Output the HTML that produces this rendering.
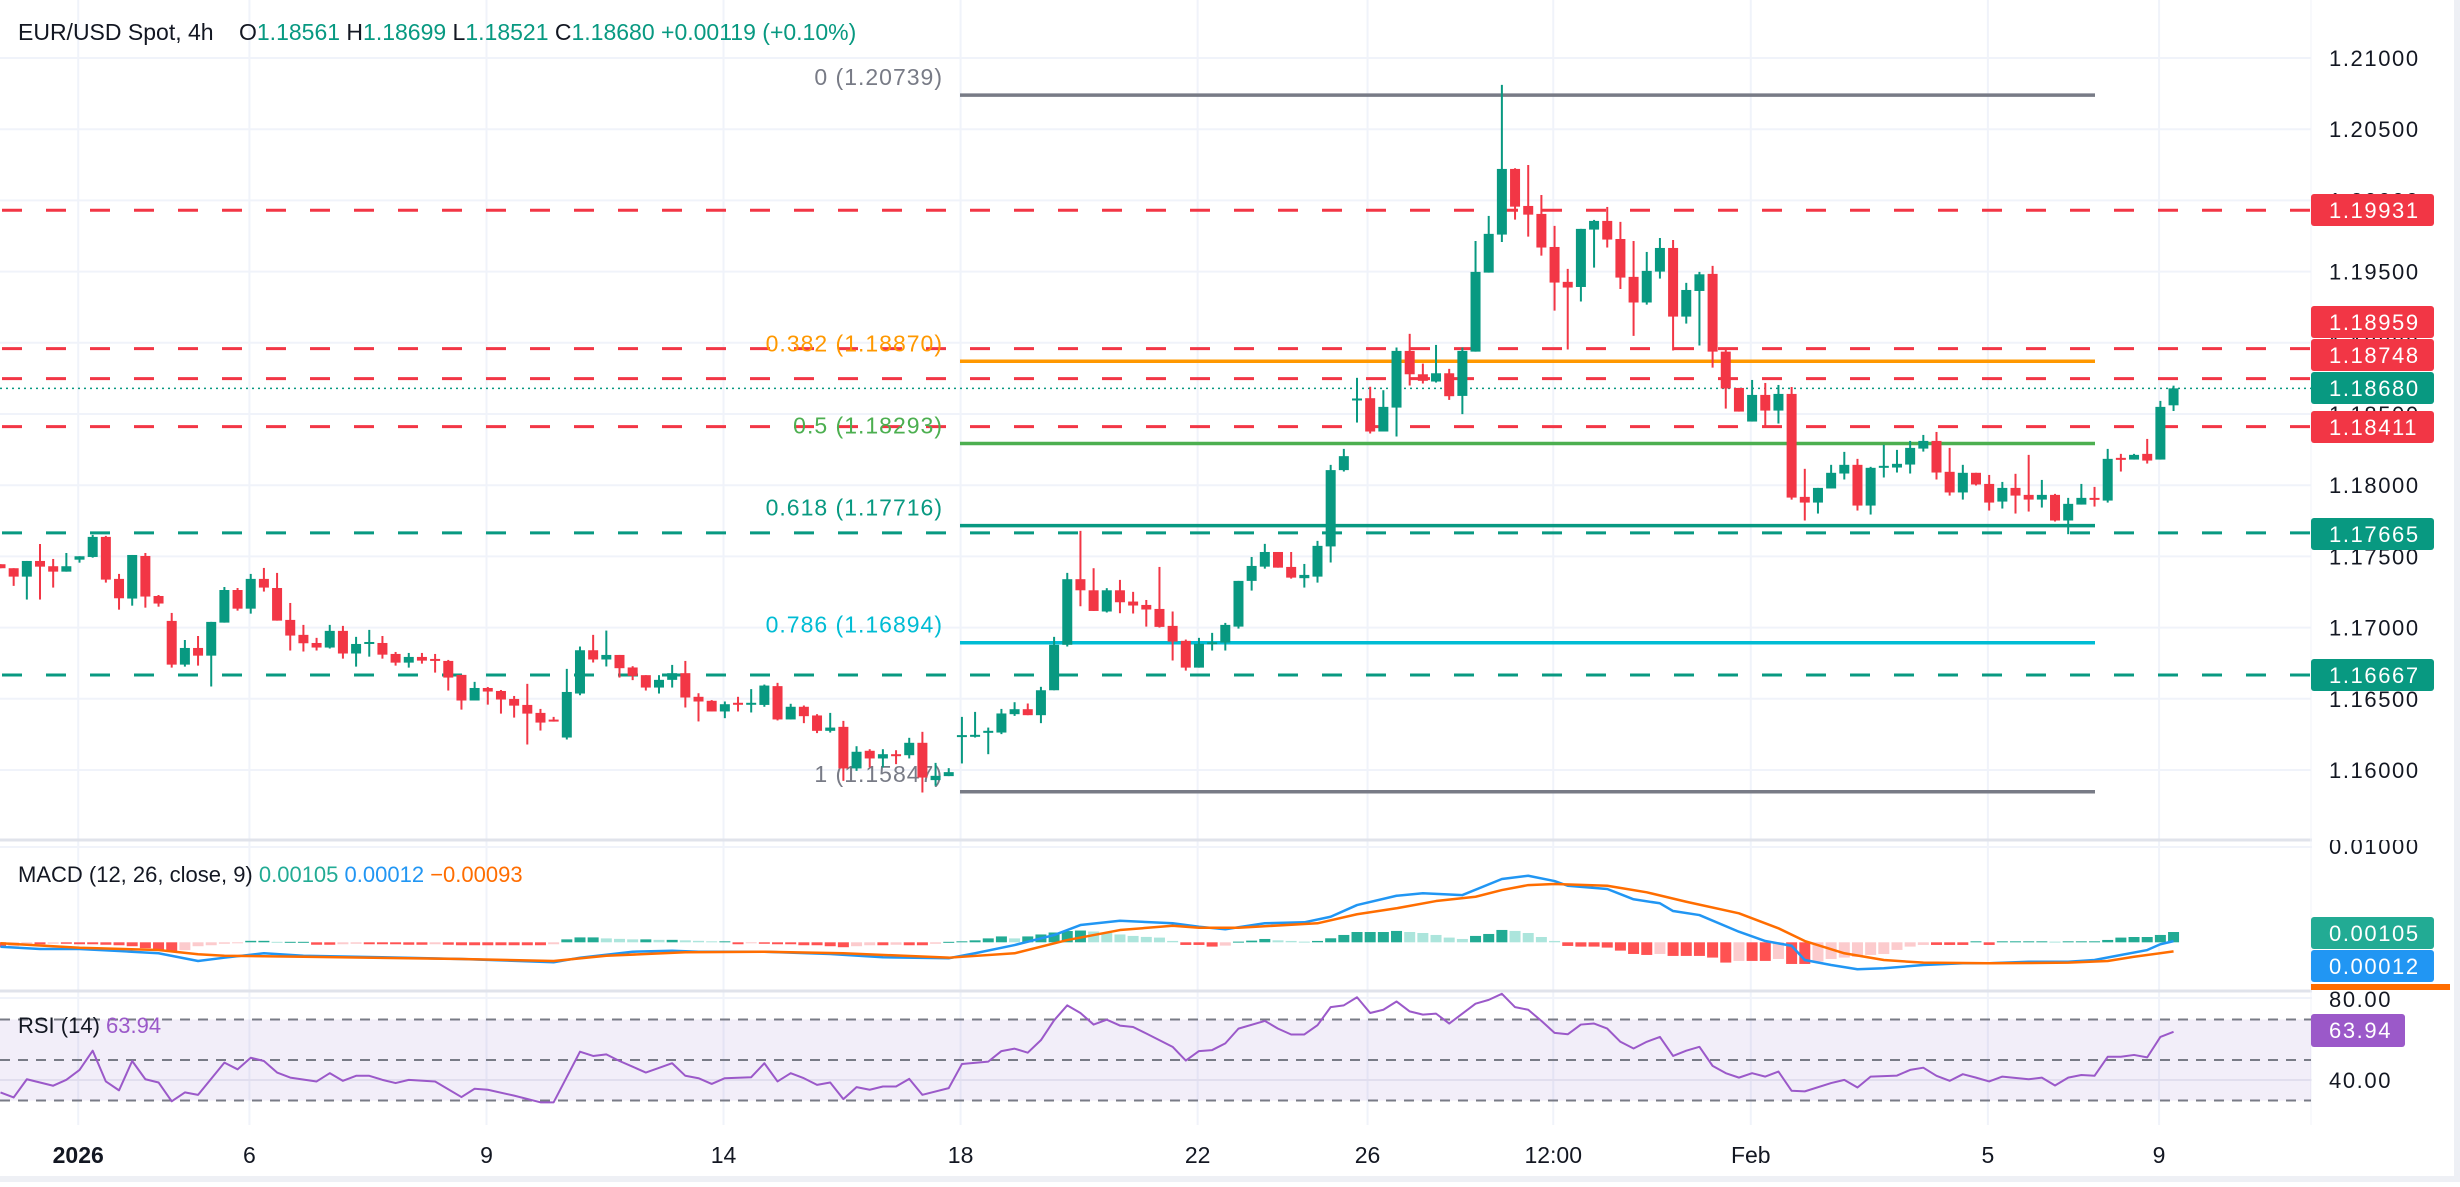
<!DOCTYPE html>
<html><head><meta charset="utf-8"><title>EUR/USD Spot 4h</title>
<style>
html,body{margin:0;padding:0;background:#fff;}
body{width:2460px;height:1182px;overflow:hidden;font-family:"Liberation Sans",Arial,sans-serif;}
svg text{font-family:"Liberation Sans",Arial,sans-serif;}
</style></head>
<body>
<svg id="chart" width="2460" height="1182" viewBox="0 0 2460 1182" xmlns="http://www.w3.org/2000/svg">
<rect x="0" y="0" width="2460" height="1182" fill="#ffffff"/>
<g id="grid"></g>
<g id="levels"></g>
<g id="fib"></g>
<g id="candles"></g>
<g id="macd"></g>
<g id="rsi"></g>
<g id="axis"></g>
<g id="xaxis"></g>
<g id="legend">
  <text x="18" y="40" font-size="23" fill="#131722">EUR/USD Spot, 4h</text>
  <text x="239" y="40" font-size="23" fill="#131722">O<tspan fill="#089981">1.18561</tspan>  H<tspan fill="#089981">1.18699</tspan>  L<tspan fill="#089981">1.18521</tspan>  C<tspan fill="#089981">1.18680</tspan>  <tspan fill="#089981">+0.00119 (+0.10%)</tspan></text>
  <text x="18" y="882" font-size="22" fill="#131722">MACD (12, 26, close, 9) <tspan fill="#22ab94">0.00105</tspan> <tspan fill="#2196f3">0.00012</tspan> <tspan fill="#ff6d00">−0.00093</tspan></text>
  <text x="18" y="1033" font-size="22" fill="#131722">RSI (14) <tspan fill="#9b59c9">63.94</tspan></text>
</g>
</svg>
<script>
const opens=[1.17445,1.17417,1.17358,1.17468,1.17431,1.17393,1.17477,1.17496,1.17637,1.17342,1.17204,1.17503,1.17222,1.17047,1.16740,1.16857,1.16803,1.17035,1.17264,1.17133,1.17342,1.17278,1.17054,1.16949,1.16892,1.16860,1.16977,1.16818,1.16888,1.16892,1.16815,1.16754,1.16794,1.16780,1.16766,1.16668,1.16488,1.16576,1.16555,1.16499,1.16457,1.16401,1.16354,1.16228,1.16537,1.16841,1.16776,1.16808,1.16720,1.16666,1.16579,1.16633,1.16680,1.16514,1.16486,1.16411,1.16472,1.16462,1.16457,1.16589,1.16355,1.16444,1.16383,1.16275,1.16303,1.16011,1.16135,1.16081,1.16111,1.16104,1.16191,1.15929,1.15957,1.16233,1.16233,1.16263,1.16263,1.16392,1.16427,1.16385,1.16560,1.16879,1.17340,1.17262,1.17113,1.17262,1.17183,1.17159,1.17131,1.17012,1.16907,1.16719,1.16883,1.16895,1.17007,1.17328,1.17428,1.17531,1.17426,1.17347,1.17358,1.17570,1.18106,1.18597,1.18611,1.18377,1.18545,1.18943,1.18779,1.18728,1.18786,1.18627,1.18938,1.19493,1.19760,1.20221,1.19961,1.19905,1.19673,1.19428,1.19392,1.19795,1.19856,1.19729,1.19463,1.19283,1.19500,1.19666,1.19184,1.19364,1.19484,1.18938,1.18683,1.18447,1.18634,1.18524,1.18641,1.17918,1.17878,1.17977,1.18082,1.18143,1.17857,1.18124,1.18124,1.18145,1.18257,1.18311,1.18094,1.17949,1.18087,1.18009,1.17885,1.17981,1.17932,1.17899,1.17932,1.17752,1.17864,1.17911,1.17892,1.18192,1.18180,1.18220,1.18180,1.18561];
const highs=[1.17445,1.17417,1.17468,1.17587,1.17482,1.17524,1.17501,1.17651,1.17644,1.17377,1.17510,1.17524,1.17229,1.17103,1.16913,1.16941,1.17040,1.17285,1.17278,1.17377,1.17419,1.17384,1.17173,1.17019,1.16928,1.17019,1.17012,1.16935,1.16984,1.16941,1.16829,1.16822,1.16822,1.16815,1.16773,1.16668,1.16619,1.16583,1.16562,1.16520,1.16605,1.16429,1.16373,1.16710,1.16867,1.16949,1.16979,1.16808,1.16729,1.16666,1.16666,1.16738,1.16766,1.16539,1.16491,1.16481,1.16514,1.16568,1.16600,1.16612,1.16465,1.16453,1.16392,1.16401,1.16345,1.16167,1.16146,1.16146,1.16139,1.16226,1.16268,1.16050,1.16013,1.16373,1.16408,1.16298,1.16429,1.16476,1.16467,1.16584,1.16935,1.17384,1.17679,1.17417,1.17277,1.17335,1.17251,1.17194,1.17426,1.17113,1.16916,1.16928,1.16963,1.17033,1.17328,1.17496,1.17588,1.17531,1.17531,1.17447,1.17609,1.18143,1.18255,1.18754,1.18691,1.18667,1.18967,1.19063,1.18854,1.18985,1.18817,1.18967,1.19715,1.19891,1.20811,1.20226,1.20249,1.20038,1.19821,1.19519,1.19800,1.19863,1.19954,1.19849,1.19715,1.19638,1.19736,1.19722,1.19421,1.19498,1.19540,1.18966,1.18683,1.18739,1.18718,1.18704,1.18690,1.18115,1.17981,1.18143,1.18234,1.18185,1.18129,1.18283,1.18248,1.18311,1.18353,1.18374,1.18262,1.18143,1.18087,1.18072,1.18023,1.18080,1.18213,1.18037,1.17939,1.17911,1.18009,1.17988,1.18255,1.18220,1.18220,1.18325,1.18592,1.18699];
const lows=[1.17417,1.17293,1.17197,1.17197,1.17281,1.17393,1.17456,1.17491,1.17316,1.17126,1.17154,1.17140,1.17147,1.16719,1.16726,1.16733,1.16586,1.17035,1.17119,1.17098,1.17253,1.17049,1.16839,1.16832,1.16839,1.16853,1.16782,1.16726,1.16796,1.16782,1.16733,1.16719,1.16747,1.16684,1.16558,1.16424,1.16488,1.16459,1.16396,1.16368,1.16179,1.16277,1.16340,1.16214,1.16525,1.16755,1.16727,1.16649,1.16631,1.16558,1.16537,1.16579,1.16439,1.16341,1.16411,1.16364,1.16411,1.16404,1.16444,1.16348,1.16355,1.16329,1.16259,1.16263,1.15924,1.15994,1.16018,1.16018,1.16041,1.16081,1.15842,1.15889,1.15957,1.16046,1.16228,1.16111,1.16252,1.16380,1.16385,1.16329,1.16560,1.16867,1.17150,1.17117,1.17106,1.17101,1.17099,1.17007,1.17000,1.16769,1.16698,1.16719,1.16839,1.16839,1.16993,1.17260,1.17414,1.17421,1.17344,1.17281,1.17316,1.17457,1.18096,1.18440,1.18363,1.18377,1.18342,1.18700,1.18714,1.18721,1.18599,1.18499,1.18938,1.19493,1.19708,1.19865,1.19746,1.19612,1.19226,1.18953,1.19290,1.19528,1.19669,1.19378,1.19049,1.19268,1.19451,1.18946,1.19135,1.18981,1.18826,1.18538,1.18517,1.18447,1.18417,1.18433,1.17899,1.17752,1.17801,1.17977,1.18040,1.17822,1.17794,1.18054,1.18089,1.18082,1.18236,1.18040,1.17927,1.17899,1.17998,1.17822,1.17836,1.17801,1.17815,1.17843,1.17745,1.17656,1.17864,1.17850,1.17878,1.18096,1.18180,1.18152,1.18180,1.18521];
const closes=[1.17417,1.17358,1.17468,1.17428,1.17393,1.17431,1.17501,1.17637,1.17337,1.17206,1.17510,1.17218,1.17169,1.16740,1.16857,1.16803,1.17040,1.17264,1.17133,1.17342,1.17281,1.17049,1.16944,1.16890,1.16860,1.16977,1.16818,1.16885,1.16899,1.16810,1.16754,1.16794,1.16768,1.16768,1.16649,1.16488,1.16576,1.16551,1.16495,1.16452,1.16396,1.16333,1.16340,1.16548,1.16841,1.16776,1.16808,1.16715,1.16661,1.16579,1.16633,1.16680,1.16509,1.16481,1.16411,1.16462,1.16462,1.16472,1.16593,1.16355,1.16444,1.16378,1.16275,1.16298,1.16011,1.16128,1.16081,1.16111,1.16104,1.16191,1.15947,1.15959,1.15985,1.16245,1.16247,1.16275,1.16397,1.16427,1.16385,1.16560,1.16879,1.17340,1.17262,1.17117,1.17262,1.17178,1.17155,1.17127,1.17005,1.16902,1.16719,1.16886,1.16897,1.17019,1.17328,1.17433,1.17531,1.17421,1.17351,1.17370,1.17574,1.18106,1.18204,1.18609,1.18377,1.18550,1.18943,1.18779,1.18733,1.18786,1.18625,1.18943,1.19498,1.19765,1.20221,1.19956,1.19900,1.19669,1.19423,1.19388,1.19800,1.19856,1.19725,1.19458,1.19283,1.19505,1.19666,1.19184,1.19371,1.19481,1.18938,1.18679,1.18517,1.18634,1.18524,1.18641,1.17913,1.17878,1.17981,1.18087,1.18143,1.17857,1.18122,1.18136,1.18150,1.18262,1.18311,1.18089,1.17949,1.18087,1.18005,1.17878,1.17981,1.17927,1.17899,1.17932,1.17752,1.17869,1.17911,1.17906,1.18185,1.18180,1.18213,1.18173,1.18550,1.18680];

const macdIdx=[1,4,7,10,13,16,18,21,24,30,36,43,45,49,52,54,59,64,68,73,75,78,81,83,86,90,92,94,97,100,102,104,107,109,112,115,117,119,120,123,125,127,128,130,133,135,137,138,140,142,144,147,150,152,155,158,160,162,164,165,166];
const macdVal=[-0.00045,-0.00068,-0.00068,-0.00089,-0.00112,-0.00191,-0.00157,-0.00112,-0.00137,-0.00153,-0.00170,-0.00204,-0.00157,-0.00096,-0.00086,-0.00096,-0.00096,-0.00119,-0.00153,-0.00163,-0.00112,-0.00028,0.00074,0.00176,0.00220,0.00194,0.00159,0.00133,0.00194,0.00204,0.00261,0.00380,0.00475,0.00500,0.00482,0.00646,0.00679,0.00625,0.00577,0.00544,0.00439,0.00398,0.00319,0.00278,0.00108,0.00013,-0.00035,-0.00181,-0.00232,-0.00275,-0.00265,-0.00232,-0.00214,-0.00214,-0.00198,-0.00198,-0.00181,-0.00130,-0.00079,-0.00020,0.00012];
const signalIdx=[1,7,13,16,18,24,36,43,47,53,59,65,73,78,82,86,90,92,95,101,104,107,110,113,115,117,119,123,126,129,133,136,138,141,144,147,152,158,161,163,166];
const signalVal=[-0.00010,-0.00055,-0.00079,-0.00122,-0.00137,-0.00147,-0.00170,-0.00191,-0.00137,-0.00102,-0.00096,-0.00112,-0.00157,-0.00112,0.00023,0.00125,0.00169,0.00149,0.00149,0.00194,0.00286,0.00347,0.00421,0.00465,0.00533,0.00584,0.00595,0.00577,0.00510,0.00414,0.00296,0.00143,0.00013,-0.00112,-0.00181,-0.00208,-0.00214,-0.00208,-0.00191,-0.00147,-0.00093];
const histVal=[-0.00050,-0.00040,-0.00020,-0.00020,-0.00015,-0.00015,-0.00020,-0.00020,-0.00025,-0.00030,-0.00040,-0.00060,-0.00080,-0.00090,-0.00080,-0.00040,-0.00030,-0.00015,-0.00005,0.00015,0.00015,0.00005,0.00005,0.00005,-0.00025,-0.00025,-0.00020,-0.00015,-0.00020,-0.00020,-0.00020,-0.00025,-0.00025,-0.00020,-0.00025,-0.00030,-0.00030,-0.00030,-0.00030,-0.00030,-0.00030,-0.00030,-0.00020,0.00030,0.00050,0.00050,0.00040,0.00035,0.00030,0.00030,0.00025,0.00025,0.00020,0.00015,0.00010,0.00010,-0.00020,-0.00005,-0.00015,-0.00020,-0.00020,-0.00030,-0.00030,-0.00040,-0.00050,-0.00040,-0.00030,-0.00030,-0.00025,-0.00030,-0.00030,-0.00015,0.00005,0.00010,0.00020,0.00040,0.00060,0.00040,0.00060,0.00080,0.00100,0.00115,0.00120,0.00110,0.00095,0.00080,0.00065,0.00055,0.00048,0.00014,-0.00027,-0.00027,-0.00044,-0.00034,0.00007,0.00017,0.00034,0.00020,0.00014,0.00007,0.00014,0.00041,0.00075,0.00105,0.00105,0.00105,0.00116,0.00105,0.00095,0.00075,0.00048,0.00034,0.00065,0.00085,0.00126,0.00116,0.00095,0.00054,0.00014,-0.00037,-0.00044,-0.00044,-0.00054,-0.00085,-0.00119,-0.00129,-0.00119,-0.00139,-0.00139,-0.00139,-0.00156,-0.00207,-0.00190,-0.00190,-0.00190,-0.00170,-0.00221,-0.00221,-0.00197,-0.00170,-0.00156,-0.00150,-0.00129,-0.00119,-0.00078,-0.00044,-0.00027,-0.00027,-0.00027,-0.00027,0.00010,-0.00027,0.00010,0.00010,0.00010,0.00010,0.00007,0.00010,0.00010,0.00010,0.00024,0.00048,0.00054,0.00054,0.00075,0.00105];
const rsiIdx=[1,2,3,5,6,7,8,9,10,11,12,13,14,15,16,18,19,20,21,22,23,25,26,27,28,29,30,31,32,34,36,37,38,40,42,43,45,46,47,48,49,50,52,53,54,55,56,58,59,60,61,62,63,64,65,66,67,68,69,70,71,73,74,76,77,78,79,80,81,82,83,84,85,86,87,88,90,91,92,93,94,95,97,98,99,100,101,102,103,104,105,106,107,108,109,110,111,113,114,115,116,117,118,119,120,121,122,123,124,125,126,127,128,129,130,131,132,133,134,135,136,137,138,140,141,142,143,145,146,147,148,149,150,151,152,153,155,156,157,158,159,160,161,162,163,164,165,166];
const rsiVal=[34.0,31.5,40.5,37.3,40.2,45.1,54.6,39.4,35.0,49.5,40.5,38.9,29.6,34.0,32.8,48.7,45.4,51.1,49.5,43.8,41.3,39.4,43.5,39.7,42.2,42.2,40.2,38.6,40.2,39.4,31.7,35.8,35.3,32.4,29.1,29.1,54.1,52.0,52.8,49.5,46.7,43.8,48.4,42.2,41.0,38.2,41.0,41.5,48.4,39.4,43.5,41.0,37.7,38.9,30.7,36.6,35.3,36.9,36.9,40.7,32.8,36.1,48.0,49.2,54.4,55.6,53.6,59.8,69.6,77.0,73.2,67.5,69.9,67.0,66.3,63.1,56.5,49.7,54.4,54.9,58.2,65.5,69.3,65.5,62.6,62.6,67.2,76.1,77.0,81.0,73.2,74.8,78.9,74.0,72.4,72.9,68.0,77.8,79.7,82.7,76.1,74.8,69.3,63.4,62.7,67.5,68.0,65.5,59.0,55.7,59.0,61.4,52.0,54.6,56.5,47.1,43.5,41.3,43.5,41.8,44.3,34.8,34.5,38.6,40.2,36.4,41.8,42.3,45.1,46.2,42.2,39.7,43.0,41.3,39.4,41.8,40.5,41.3,37.4,41.3,42.6,42.2,51.6,51.6,52.5,51.3,61.4,63.94];

const priceTicks=[1.21,1.205,1.20,1.195,1.19,1.185,1.18,1.175,1.17,1.165,1.16];
const fibLevels=[0,0.382,0.5,0.618,0.786,1];
const fibPrices=[1.20739,1.18870,1.18293,1.17716,1.16894,1.15847];
const levelPrices=[1.19931,1.18959,1.18748,1.18411,1.17665,1.16667];
const levelKinds=["res","res","res","res","sup","sup"];
const dateLabels=["2026","6","9","14","18","22","26","12:00","Feb","5","9"];
const dateBars=[6.9,19.9,37.9,55.9,73.9,91.9,104.8,118.9,133.9,151.9,164.9];

const NS="http://www.w3.org/2000/svg";
const PLOT_R=2311;
const GREEN="#089981", RED="#f23645";
function X(i){return 0.5+(i-1)*13.17;}
function Y(p){return 58+(1.21-p)*14240;}
function YM(v){return 942.3-v*9800;}
function YR(v){return 1060-(v-50)*2.025;}
function mk(tag,attrs,parent){const e=document.createElementNS(NS,tag);for(const k in attrs)e.setAttribute(k,attrs[k]);parent.appendChild(e);return e;}
const G=id=>document.getElementById(id);

// grid
const grid=G('grid');
priceTicks.forEach(p=>{const l=mk('line',{x1:0,x2:PLOT_R,y1:Y(p),y2:Y(p),stroke:'#f0f3fa','stroke-width':2},grid);

});
dateBars.forEach(b=>{const l=mk('line',{x1:X(b),x2:X(b),y1:0,y2:1125,stroke:'#f0f3fa','stroke-width':2},grid);

});
[[840,'#e0e3eb',3],[847,'#f0f3fa',2],[991,'#e0e3eb',3],[998,'#f0f3fa',2],[1080,'#eceef3',2]].forEach(a=>{const l=mk('line',{x1:0,x2:2460,y1:a[0],y2:a[0],stroke:a[1],'stroke-width':a[2]},grid);

});
mk('line',{x1:PLOT_R,x2:PLOT_R,y1:0,y2:1125,stroke:'#f0f3fa','stroke-width':1},grid);
mk('rect',{x:2454,y:0,width:6,height:1182,fill:'#eef0f5'},grid);
mk('rect',{x:0,y:1176,width:2460,height:6,fill:'#eef0f5'},grid);

// horizontal dashed levels
const lv=G('levels');
levelPrices.forEach((p,k)=>{const l=mk('line',{x1:2,x2:PLOT_R,y1:Y(p),y2:Y(p),stroke:levelKinds[k]==='res'?RED:GREEN,'stroke-width':3,'stroke-dasharray':'20 24'},lv);

});
const cp=closes[closes.length-1];
const cl=mk('line',{x1:0,x2:PLOT_R,y1:Y(cp),y2:Y(cp),stroke:GREEN,'stroke-width':1.5,'stroke-dasharray':'2 4'},lv);



// fib
const fib=G('fib');
const fibColors=['#787b86','#ff9800','#4caf50','#089981','#00bcd4','#787b86'];
fibPrices.forEach((p,k)=>{const l=mk('line',{x1:960,x2:2095,y1:Y(p),y2:Y(p),stroke:fibColors[k],'stroke-width':3.5},fib);


const t=mk('text',{x:943,y:Y(p)-10,'text-anchor':'end','font-size':23,fill:fibColors[k],'letter-spacing':'1'},fib);
t.textContent=fibLevels[k]+' ('+p.toFixed(5)+')';

});

// candles
const cg=G('candles');
opens.forEach((o,j)=>{const c=closes[j],h=highs[j],lo=lows[j];const x=X(j+1);const col=c>=o?GREEN:RED;
const w=mk('line',{x1:x,x2:x,y1:Y(h),y2:Y(lo),stroke:col,'stroke-width':2},cg);


const top=Y(Math.max(o,c)),bot=Y(Math.min(o,c));
const b=mk('rect',{x:x-5,y:top,width:10,height:Math.max(2,bot-top),fill:col},cg);

});

// MACD
const mg=G('macd');
histVal.forEach((v,j)=>{const prev=j>0?histVal[j-1]:v;let col;
if(v>=0)col=v>=prev?'#22ab94':'#ace5dc';else col=v<=prev?'#ff5252':'#fccbcd';
const y0=YM(0),y1=YM(v);
const r=mk('rect',{x:X(j+1)-5.5,y:Math.min(y0,y1),width:11,height:Math.max(1,Math.abs(y1-y0)),fill:col},mg);

});
const mp=mk('polyline',{points:macdIdx.map((i,k)=>X(i)+','+YM(macdVal[k])).join(' '),fill:'none',stroke:'#2196f3','stroke-width':2.5,'stroke-linejoin':'round'},mg);


const sp=mk('polyline',{points:signalIdx.map((i,k)=>X(i)+','+YM(signalVal[k])).join(' '),fill:'none',stroke:'#ff6d00','stroke-width':2.5,'stroke-linejoin':'round'},mg);



// RSI
const rg=G('rsi');
const band=mk('rect',{x:0,y:YR(70),width:PLOT_R,height:YR(30)-YR(70),fill:'#7e57c2','fill-opacity':0.1},rg);


[70,50,30].forEach(v=>{const l=mk('line',{x1:0,x2:PLOT_R,y1:YR(v),y2:YR(v),stroke:'#787b86','stroke-width':2,'stroke-dasharray':'10 8'},rg);

});
const rp=mk('polyline',{points:rsiIdx.map((i,k)=>X(i)+','+YR(rsiVal[k])).join(' '),fill:'none',stroke:'#9b59c9','stroke-width':2,'stroke-linejoin':'round'},rg);



// price axis
const ax=G('axis');
mk('rect',{x:PLOT_R+1,y:0,width:142,height:1125,fill:'#ffffff'},ax);
function axText(txt,y,fill){const t=mk('text',{x:2329,y:y+8,'font-size':22,fill:fill,'letter-spacing':'1.6'},ax);t.textContent=txt;return t;}
priceTicks.forEach(p=>{const t=axText(p.toFixed(5),Y(p),'#131722');

});
const mt=axText('0.01000',846,'#131722');


[[80,999],[40,1080]].forEach(a=>{const t=axText(a[0].toFixed(2),a[1],'#131722');

});
mk('rect',{x:PLOT_R+1,y:835,width:142,height:5,fill:'#ffffff'},ax);
const boxes=[[levelPrices[0],210,RED],[levelPrices[1],322,RED],[levelPrices[2],355,RED],[cp,388,GREEN],[levelPrices[3],427,RED],[levelPrices[4],534,GREEN],[levelPrices[5],675,GREEN]];
boxes.forEach(b=>{const r=mk('rect',{x:PLOT_R,y:b[1]-16,width:123,height:32,rx:3,fill:b[2]},ax);


const t=axText(b[0].toFixed(5),b[1],'#ffffff');

});
[[histVal[histVal.length-1],933,'#22ab94'],[macdVal[macdVal.length-1],966,'#2196f3']].forEach(b=>{const r=mk('rect',{x:PLOT_R,y:b[1]-16,width:123,height:32,rx:3,fill:b[2]},ax);


const t=axText(b[0].toFixed(5),b[1],'#ffffff');

});
const ob=mk('rect',{x:PLOT_R,y:984,width:139,height:6,fill:'#ff6d00'},ax);


const rb=mk('rect',{x:PLOT_R,y:1014,width:94,height:33,rx:3,fill:'#9b59c9'},ax);


const rt=axText(rsiVal[rsiVal.length-1].toFixed(2),1030,'#ffffff');



// time axis
const xa=G('xaxis');
dateLabels.forEach((s,k)=>{const t=mk('text',{x:X(dateBars[k]),y:1163,'text-anchor':'middle','font-size':23,fill:'#131722','font-weight':s==='2026'?'bold':'normal'},xa);
t.textContent=s;

});
</script>
</body></html>
